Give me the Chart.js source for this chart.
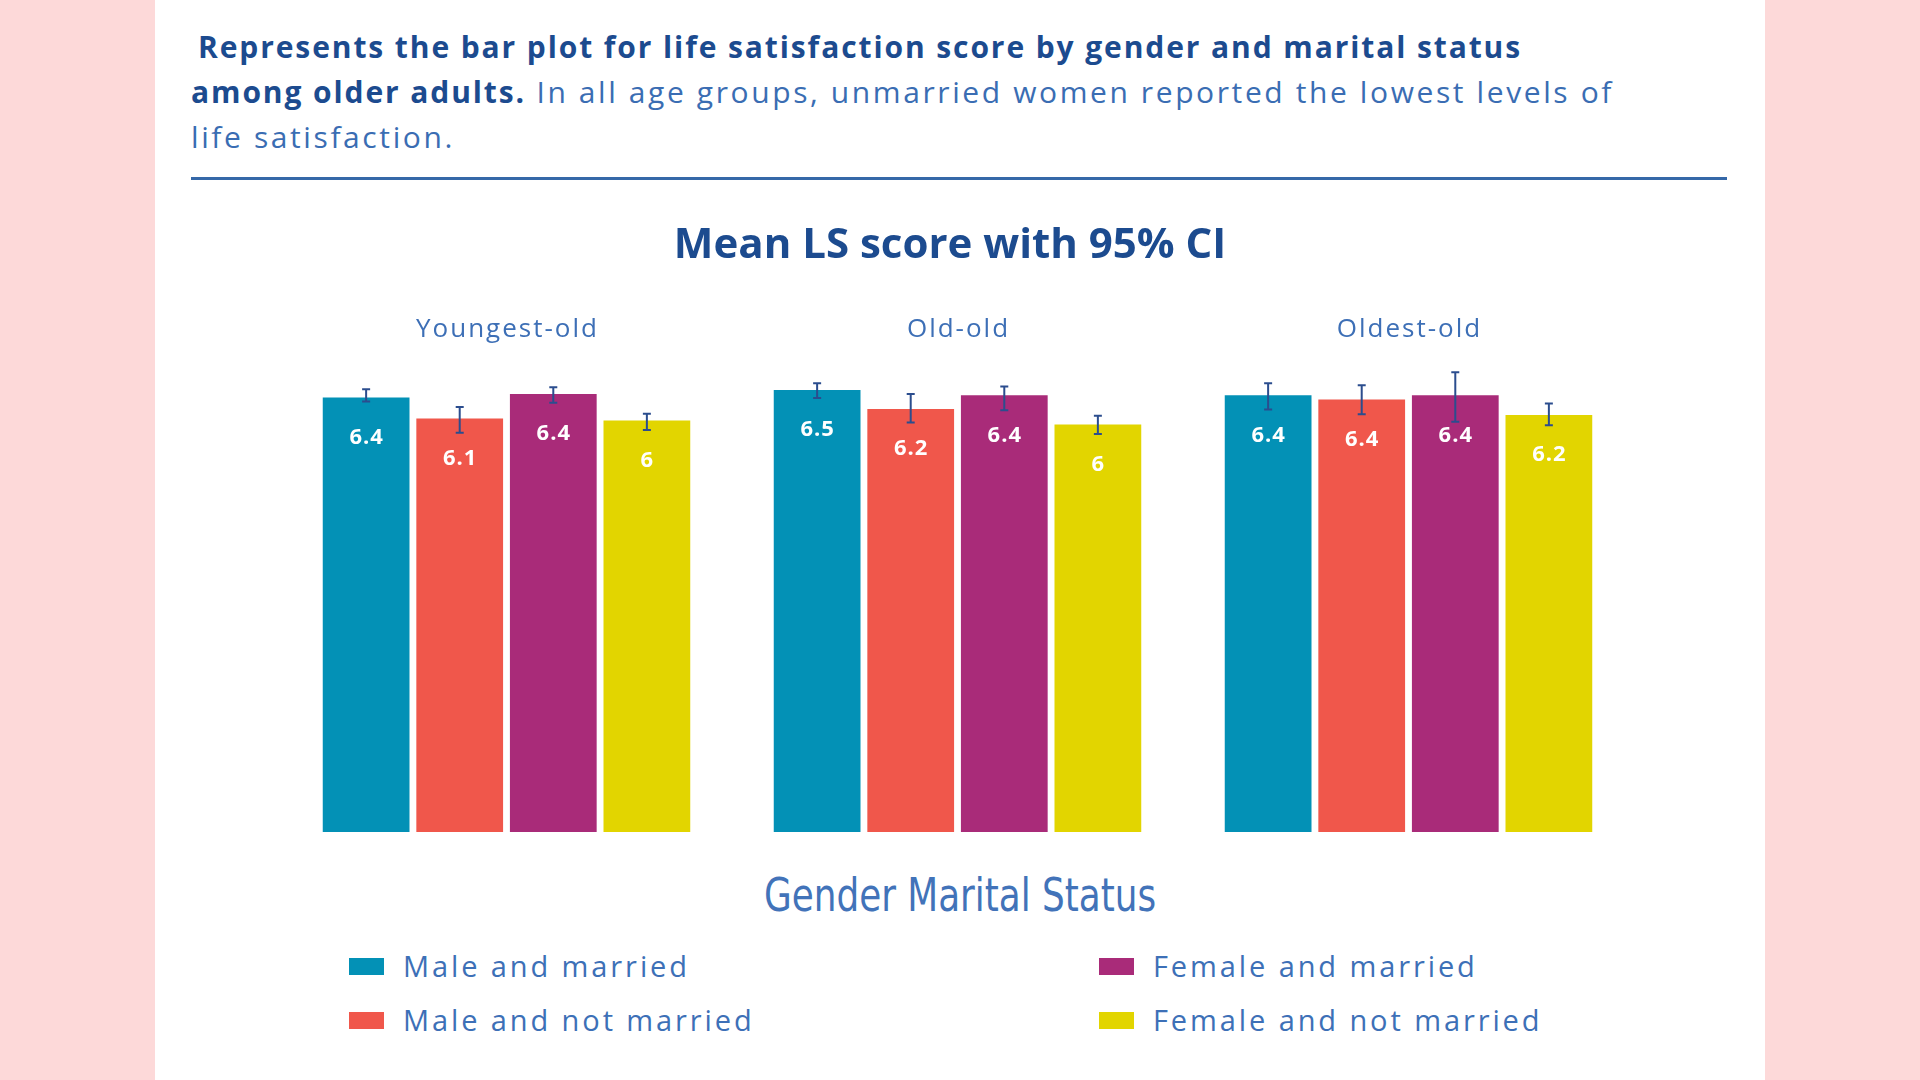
<!DOCTYPE html>
<html>
<head>
<meta charset="utf-8">
<script src="https://cdn.jsdelivr.net/npm/chart.js@4.4.1/dist/chart.umd.min.js"></script>
<style>
  html, body { margin: 0; padding: 0; }
  body { width: 1920px; height: 1080px; background: #fdd9d9; position: relative; overflow: hidden; font-family: "Open Sans", sans-serif; }
  #panel { position: absolute; left: 155px; top: 0; width: 1610px; height: 1080px; background: #fff; }
  #intro { position: absolute; left: 191px; top: 24px; font-size: 30px; line-height: 45px; color: #3a6db3; letter-spacing: 2.6px; white-space: nowrap; }
  #intro b { color: #1c4b8f; letter-spacing: 1.9px; }
  #rule { position: absolute; left: 191px; top: 177px; width: 1536px; height: 3px; background: #3568a8; }
  #wrap { position: absolute; left: 145px; top: 190px; width: 1610px; height: 660px; }
  #legendTitle { position: absolute; left: 0; width: 1920px; top: 866px; text-align: center; font-family: "Liberation Sans Narrow", "DejaVu Sans Condensed", sans-serif; font-stretch: condensed; font-size: 46px; line-height: 58px; color: #4273b9; transform: scaleX(0.865); }
  .item { position: absolute; font-size: 29px; line-height: 36px; color: #3d70b7; letter-spacing: 2.9px; white-space: nowrap; }
  .item span { position: absolute; left: -54px; top: 10px; width: 35px; height: 17px; }
</style>
</head>
<body>
<div id="panel"></div>
<div id="intro"><span style="display:inline-block;width:7px"></span><b>Represents the bar plot for life satisfaction score by gender and marital status</b><br><b>among older adults.</b> In all age groups, unmarried women reported the lowest levels of<br>life satisfaction.</div>
<div id="rule"></div>
<div id="wrap"><canvas id="lsChart"></canvas></div>
<div id="legendTitle">Gender Marital Status</div>
<div id="legend"></div>
<script>
const ageGroups = ['Youngest-old', 'Old-old', 'Oldest-old']
const seriesNames = ['Male and married', 'Male and not married', 'Female and married', 'Female and not married']
const seriesColors = ['#0391b6', '#f0574b', '#a92b79', '#e2d500']

// mean LS score per age group
const maleMarried = [6.41, 6.52, 6.44]
const maleNotMarried = [6.10, 6.24, 6.38]
const femaleMarried = [6.46, 6.44, 6.44]
const femaleNotMarried = [6.07, 6.01, 6.15]

// printed labels on the bars
const maleMarriedText = ['6.4', '6.5', '6.4']
const maleNotMarriedText = ['6.1', '6.2', '6.4']
const femaleMarriedText = ['6.4', '6.4', '6.4']
const femaleNotMarriedText = ['6', '6', '6.2']

// 95% CI
const maleMarriedLow = [6.35, 6.40, 6.23]
const maleMarriedHigh = [6.53, 6.62, 6.62]
const maleNotMarriedLow = [5.89, 6.04, 6.16]
const maleNotMarriedHigh = [6.27, 6.46, 6.59]
const femaleMarriedLow = [6.33, 6.22, 6.05]
const femaleMarriedHigh = [6.56, 6.57, 6.78]
const femaleNotMarriedLow = [5.93, 5.87, 6.00]
const femaleNotMarriedHigh = [6.17, 6.14, 6.32]

const means = [maleMarried, maleNotMarried, femaleMarried, femaleNotMarried]
const texts = [maleMarriedText, maleNotMarriedText, femaleMarriedText, femaleNotMarriedText]
const lows = [maleMarriedLow, maleNotMarriedLow, femaleMarriedLow, femaleNotMarriedLow]
const highs = [maleMarriedHigh, maleNotMarriedHigh, femaleMarriedHigh, femaleNotMarriedHigh]

// group names above, value labels + error bars
const ciPlugin = {
  id: 'ci',
  afterDatasetsDraw(chart) {
    const ctx = chart.ctx
    const x = chart.scales.x
    const y = chart.scales.y

    ctx.save()
    ctx.letterSpacing = '2px'
    ctx.fillStyle = '#3d6fb6'
    ctx.font = '26px "Open Sans"'
    ctx.textAlign = 'center'
    ctx.textBaseline = 'middle'
    chart.data.labels.forEach((l, j) => ctx.fillText(l, x.getPixelForValue(j) + 1, chart.chartArea.top - 28))
    ctx.restore()

    chart.data.datasets.forEach((ds, i) => {
      chart.getDatasetMeta(i).data.forEach((bar, j) => {
        ctx.save()
        ctx.letterSpacing = '1px'
        ctx.fillStyle = '#fff'
        ctx.font = 'bold 22px "Open Sans"'
        ctx.textAlign = 'center'
        ctx.textBaseline = 'middle'
        ctx.fillText(texts[i][j], bar.x + 0.5, bar.y + 40)

        const top = y.getPixelForValue(highs[i][j])
        const bot = y.getPixelForValue(lows[i][j])
        ctx.strokeStyle = '#2b4d8e'
        ctx.lineWidth = 2
        ctx.beginPath()
        ctx.moveTo(bar.x, top); ctx.lineTo(bar.x, bot)
        ctx.moveTo(bar.x - 4, top); ctx.lineTo(bar.x + 4, top)
        ctx.moveTo(bar.x - 4, bot); ctx.lineTo(bar.x + 4, bot)
        ctx.stroke()
        ctx.restore()
      })
    })
  }
}

new Chart(document.getElementById('lsChart'), {
  type: 'bar',
  data: {
    labels: ageGroups,
    datasets: seriesNames.map((name, i) => ({
      label: name,
      data: means[i],
      backgroundColor: seriesColors[i],
      borderWidth: 0,
      categoryPercentage: 0.83,
      barPercentage: 0.927
    }))
  },
  options: {
    responsive: true,
    maintainAspectRatio: false,
    animation: false,
    layout: { padding: { left: 121, right: 121, bottom: 18 } },
    plugins: {
      legend: { display: false },
      tooltip: { enabled: false },
      title: {
        display: true,
        text: 'Mean LS score with 95% CI',
        color: '#1c4b8f',
        font: { family: 'Open Sans', size: 42, weight: 'bold' },
        padding: { top: 31, bottom: 86 }
      }
    },
    scales: {
      x: { display: false },
      y: {
        min: 0, max: 7,
        ticks: { display: false },
        grid: { display: false },
        border: { display: false },
        afterFit: s => { s.width = 15 }
      }
    }
  },
  plugins: [ciPlugin]
})

// legend, two columns
const legendPos = [[403, 948], [403, 1002], [1153, 948], [1153, 1002]]
const legend = document.getElementById('legend')
seriesNames.forEach((name, i) => {
  const d = document.createElement('div')
  d.className = 'item'
  d.style.left = legendPos[i][0] + 'px'
  d.style.top = legendPos[i][1] + 'px'
  d.innerHTML = `<span style="background:${seriesColors[i]}"></span>${name}`
  legend.appendChild(d)
})
</script>
</body>
</html>
